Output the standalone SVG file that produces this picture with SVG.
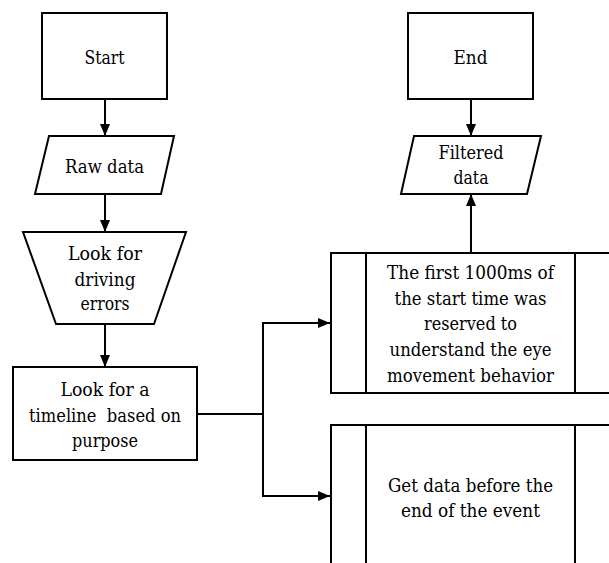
<svg xmlns="http://www.w3.org/2000/svg" width="609" height="563" viewBox="0 0 609 563">
  <style>
    .shape { fill: #ffffff; stroke: #000000; stroke-width: 2; }
    .line { fill: none; stroke: #000000; stroke-width: 2; }
    .label { font-family: "DejaVu Serif", "Liberation Serif", serif; font-size: 19px; fill: #000000; text-anchor: middle; }
  </style>
  <defs>
    <marker id="arrow" viewBox="0 0 12 10" refX="12" refY="5" markerWidth="12" markerHeight="10" markerUnits="userSpaceOnUse" orient="auto">
      <path d="M0,0 L12,5 L0,10 Z" fill="#000000"/>
    </marker>
  </defs>

  <rect width="609" height="563" fill="#ffffff"/>

  <g id="connectors">
    <line class="line" x1="105" y1="99" x2="105" y2="136" marker-end="url(#arrow)"/>
    <line class="line" x1="105" y1="194" x2="105" y2="232" marker-end="url(#arrow)"/>
    <line class="line" x1="105" y1="324" x2="105" y2="367" marker-end="url(#arrow)"/>
    <line class="line" x1="197" y1="414" x2="263" y2="414"/>
    <polyline class="line" points="263,323 263,496 330,496" marker-end="url(#arrow)"/>
    <line class="line" x1="262" y1="323" x2="330" y2="323" marker-end="url(#arrow)"/>
    <line class="line" x1="471" y1="253" x2="471" y2="194" marker-end="url(#arrow)"/>
    <line class="line" x1="471" y1="99" x2="471" y2="136" marker-end="url(#arrow)"/>
  </g>

  <g id="start">
    <rect class="shape" x="42" y="13" width="125" height="86"/>
    <text class="label" x="104.5" y="64" textLength="40" lengthAdjust="spacingAndGlyphs">Start</text>
  </g>

  <g id="raw-data">
    <polygon class="shape" points="49,136 174,136 161,194 35,194"/>
    <text class="label" x="104.5" y="173" textLength="79" lengthAdjust="spacingAndGlyphs">Raw data</text>
  </g>

  <g id="driving-errors">
    <polygon class="shape" points="23,232 186,232 154,324 56,324"/>
    <text class="label" x="105" y="260" textLength="74" lengthAdjust="spacingAndGlyphs">Look for</text>
    <text class="label" x="105" y="286" textLength="61" lengthAdjust="spacingAndGlyphs">driving</text>
    <text class="label" x="105" y="310" textLength="49" lengthAdjust="spacingAndGlyphs">errors</text>
  </g>

  <g id="timeline">
    <rect class="shape" x="13" y="367" width="184" height="93"/>
    <text class="label" x="105" y="396" textLength="89" lengthAdjust="spacingAndGlyphs">Look for a</text>
    <text class="label" x="105" y="422" xml:space="preserve" textLength="152" lengthAdjust="spacingAndGlyphs">timeline  based on</text>
    <text class="label" x="105" y="447" textLength="66" lengthAdjust="spacingAndGlyphs">purpose</text>
  </g>

  <g id="first-1000ms">
    <rect class="shape" x="331" y="253" width="290" height="140"/>
    <line class="line" x1="366" y1="253" x2="366" y2="393"/>
    <line class="line" x1="575" y1="253" x2="575" y2="393"/>
    <text class="label" x="470.5" y="279" textLength="167" lengthAdjust="spacingAndGlyphs">The first 1000ms of</text>
    <text class="label" x="470.5" y="305" textLength="152" lengthAdjust="spacingAndGlyphs">the start time was</text>
    <text class="label" x="470.5" y="330" textLength="93" lengthAdjust="spacingAndGlyphs">reserved to</text>
    <text class="label" x="470.5" y="356" textLength="162" lengthAdjust="spacingAndGlyphs">understand the eye</text>
    <text class="label" x="470.5" y="382" textLength="167" lengthAdjust="spacingAndGlyphs">movement behavior</text>
  </g>

  <g id="before-end">
    <rect class="shape" x="331" y="425" width="290" height="160"/>
    <line class="line" x1="366" y1="425" x2="366" y2="570"/>
    <line class="line" x1="575" y1="425" x2="575" y2="570"/>
    <text class="label" x="470.5" y="492" textLength="165" lengthAdjust="spacingAndGlyphs">Get data before the</text>
    <text class="label" x="470.5" y="517" textLength="139" lengthAdjust="spacingAndGlyphs">end of the event</text>
  </g>

  <g id="filtered-data">
    <polygon class="shape" points="414,136 541,136 527,194 401,194"/>
    <text class="label" x="471" y="159" textLength="65" lengthAdjust="spacingAndGlyphs">Filtered</text>
    <text class="label" x="471" y="184" textLength="35" lengthAdjust="spacingAndGlyphs">data</text>
  </g>

  <g id="end">
    <rect class="shape" x="408" y="13" width="125" height="86"/>
    <text class="label" x="470.5" y="64" textLength="34" lengthAdjust="spacingAndGlyphs">End</text>
  </g>
</svg>
